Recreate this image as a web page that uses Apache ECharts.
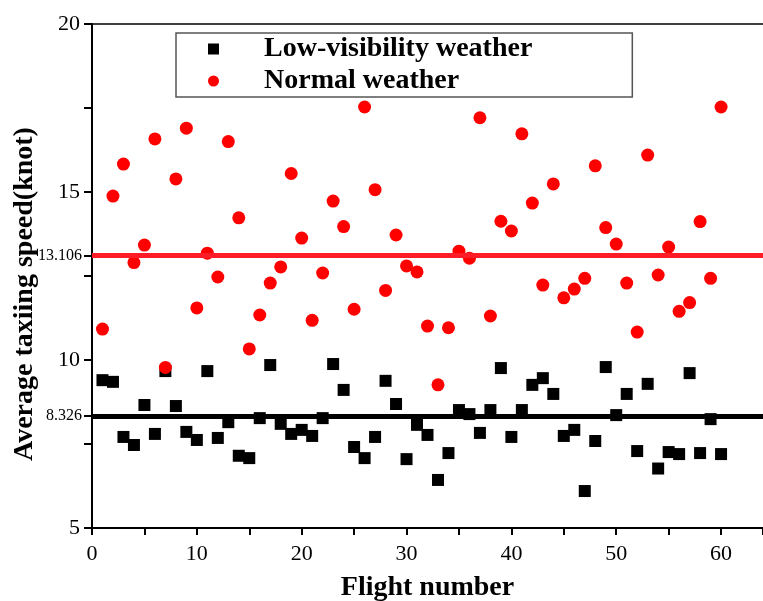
<!DOCTYPE html>
<html>
<head>
<meta charset="utf-8">
<script src="https://cdn.jsdelivr.net/npm/echarts@6/dist/echarts.min.js"></script>
<style>
  html, body { margin: 0; padding: 0; background: #fff; }
  #main { width: 763px; height: 601px; }
</style>
</head>
<body>
<div id="main"></div>
<script>
// flight numbers 1..60
const flights = [1,2,3,4,5,6,7,8,9,10,11,12,13,14,15,16,17,18,19,20,
  21,22,23,24,25,26,27,28,29,30,31,32,33,34,35,36,37,38,39,40,
  41,42,43,44,45,46,47,48,49,50,51,52,53,54,55,56,57,58,59,60];

// average taxiing speed, low-visibility weather (knot)
const lowVis = [9.40,9.35,7.71,7.47,8.66,7.80,9.67,8.63,7.86,7.62,
  9.67,7.68,8.15,7.15,7.08,8.27,9.85,8.10,7.80,7.92,
  7.74,8.27,9.88,9.11,7.41,7.08,7.71,9.38,8.69,7.05,
  8.07,7.77,6.43,7.23,8.51,8.39,7.83,8.51,9.76,7.71,
  8.51,9.26,9.46,8.99,7.74,7.92,6.10,7.59,9.79,8.36,
  8.99,7.29,9.29,6.77,7.26,7.20,9.61,7.23,8.24,7.20];

// average taxiing speed, normal weather (knot)
const normal = [10.92,14.88,15.83,12.90,13.42,16.58,9.78,15.39,16.90,11.55,
  13.18,12.47,16.50,14.23,10.33,11.34,12.29,12.77,15.55,13.63,
  11.18,12.59,14.73,13.97,11.51,17.53,15.07,12.07,13.72,12.80,
  12.62,11.01,9.26,10.96,13.24,13.03,17.21,11.31,14.13,13.84,
  16.73,14.67,12.23,15.24,11.85,12.11,12.43,15.78,13.94,13.45,
  12.29,10.83,16.10,12.53,13.36,11.45,11.71,14.12,12.43,17.53];

const meanNormal = 13.106;
const meanLowVis = 8.326;

const yTicks = [5, 10, 15, 20];
const xTicks = [0, 10, 20, 30, 40, 50, 60];

const font = 'Liberation Serif';

const chart = echarts.init(document.getElementById('main'));

const option = {
  backgroundColor: '#fff',
  animation: false,
  grid: { left: 92, right: 0, top: 24, bottom: 73, outerBoundsMode: 'none' },
  legend: {
    orient: 'vertical',
    left: 176,
    top: 33,
    padding: [1, 100, 1, 32],
    borderColor: '#555',
    borderWidth: 1.5,
    itemWidth: 11,
    itemHeight: 11,
    itemGap: 2,
    textStyle: {
      fontFamily: font, fontWeight: 'bold', fontSize: 28, color: '#000',
      lineHeight: 30, padding: [0, 0, 0, 40]
    },
    data: ['Low-visibility weather', 'Normal weather']
  },
  xAxis: [
    {
      type: 'value',
      min: 0, max: 64, interval: 5,
      name: 'Flight number',
      nameLocation: 'middle',
      nameGap: 46,
      nameTextStyle: { fontFamily: font, fontWeight: 'bold', fontSize: 28, color: '#000' },
      axisLine: { onZero: false, lineStyle: { color: '#000', width: 2 } },
      axisTick: { inside: false, length: 7, lineStyle: { color: '#000', width: 2 } },
      axisLabel: {
        fontFamily: font, fontSize: 22, color: '#000', margin: 15,
        formatter: v => xTicks.includes(v) ? String(v) : ''
      },
      splitLine: { show: false }
    },
    {
      type: 'value',
      position: 'top',
      min: 0, max: 64,
      axisLine: { show: true, lineStyle: { color: '#000', width: 1.5 } },
      axisTick: { show: false },
      axisLabel: { show: false },
      splitLine: { show: false }
    }
  ],
  yAxis: [
    {
      type: 'value',
      min: 5, max: 20, interval: 2.5,
      name: 'Average taxiing speed(knot)',
      nameLocation: 'middle',
      nameGap: 53,
      nameTextStyle: {
        fontFamily: font, fontWeight: 'bold', fontSize: 28, color: '#000',
        padding: [0, 36, 0, 0]
      },
      axisLine: { show: true, onZero: false, lineStyle: { color: '#000', width: 2 } },
      axisTick: { inside: false, length: 8, lineStyle: { color: '#000', width: 2 } },
      axisLabel: {
        fontFamily: font, fontSize: 22, color: '#000', margin: 12,
        formatter: v => yTicks.includes(v) ? String(v) : ''
      },
      splitLine: { show: false }
    },
    {
      type: 'value',
      position: 'left',
      min: 5, max: 20,
      axisLine: { show: false },
      axisTick: {
        show: true, inside: false, length: 8,
        customValues: [meanLowVis, meanNormal],
        lineStyle: { color: '#000', width: 2 }
      },
      axisLabel: {
        fontFamily: font, fontSize: 16, color: '#000', margin: 10,
        customValues: [meanLowVis, meanNormal],
        formatter: v => String(v)
      },
      splitLine: { show: false }
    }
  ],
  series: [
    {
      name: 'Low-visibility weather',
      type: 'scatter',
      symbol: 'rect',
      symbolSize: 12,
      itemStyle: { color: '#000', opacity: 1 },
      data: flights.map((f, i) => [f, lowVis[i]]),
      markLine: {
        silent: true,
        symbol: 'none',
        label: { show: false },
        lineStyle: { color: '#000', width: 5, type: 'solid', opacity: 1 },
        data: [{ yAxis: meanLowVis }]
      }
    },
    {
      name: 'Normal weather',
      type: 'scatter',
      symbol: 'circle',
      symbolSize: 13,
      itemStyle: { color: '#ff0000', opacity: 1 },
      data: flights.map((f, i) => [f, normal[i]]),
      markLine: {
        silent: true,
        symbol: 'none',
        label: { show: false },
        lineStyle: { color: '#ff1c27', width: 5, type: 'solid', opacity: 1 },
        data: [{ yAxis: meanNormal }]
      }
    }
  ]
};

chart.setOption(option);
</script>
</body>
</html>
